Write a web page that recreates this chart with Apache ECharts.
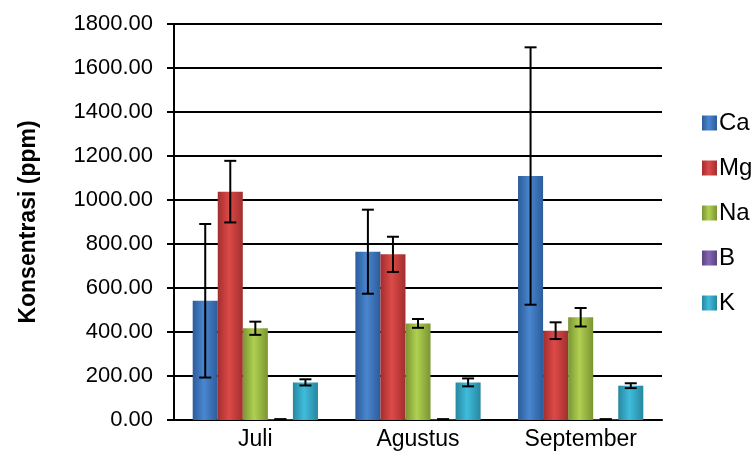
<!DOCTYPE html>
<html><head><meta charset="utf-8">
<script src="https://cdn.jsdelivr.net/npm/echarts@6/dist/echarts.min.js"></script>
<style>html,body{margin:0;padding:0;background:#fff}#c{width:755px;height:461px}</style>
</head><body><div id="c"></div>
<script>
const categories = ['Juli', 'Agustus', 'September'];
const seriesNames = ['Ca', 'Mg', 'Na', 'B', 'K'];
const Ca = [542, 765, 1109];
const Mg = [1038, 753, 406];
const Na = [417, 439, 467];
const B = [3, 3, 3];
const K = [171, 171, 156];
const CaErr = [349, 191, 585];
const MgErr = [140, 80, 38];
const NaErr = [30, 20, 42];
const BErr = [0, 0, 0];
const KErr = [14, 18, 11];
const yTicks = [0, 200, 400, 600, 800, 1000, 1200, 1400, 1600, 1800];

const values = [Ca, Mg, Na, B, K];
const errs = [CaErr, MgErr, NaErr, BErr, KErr];
const colorSets = [
  ['#2b5c9a', '#4a86d0', '#2b5c9a'],
  ['#a22e2e', '#dc4a48', '#a22e2e'],
  ['#7a9531', '#b0d052', '#7a9531'],
  ['#5a4282', '#8466b4', '#5a4282'],
  ['#27879f', '#3fbcdc', '#27879f']
];
const catGap = 0.23;
function grad(c) {
  return new echarts.graphic.LinearGradient(0, 0, 1, 0, [
    {offset: 0, color: c[0]}, {offset: 0.45, color: c[1]}, {offset: 1, color: c[2]}
  ]);
}
const series = [];
values.forEach((vals, i) => {
  series.push({
    name: seriesNames[i], type: 'bar', data: vals,
    barGap: '0%', barCategoryGap: (catGap * 100) + '%',
    itemStyle: {color: grad(colorSets[i])},
    z: 2
  });
});
values.forEach((vals, i) => {
  series.push({
    name: seriesNames[i] + '_err', type: 'custom', z: 5,
    data: vals.map((v, j) => [j, v - errs[i][j], v + errs[i][j]]),
    renderItem: function (params, api) {
      const c = api.value(0);
      const x0 = api.coord([c, 0])[0];
      const band = api.size([1, 0])[0];
      const bw = band * (1 - catGap) / 5;
      const cx = x0 + (i - 2) * bw;
      const yl = api.coord([c, api.value(1)])[1];
      const yh = api.coord([c, api.value(2)])[1];
      const hw = 6;
      const st = {stroke: '#000', lineWidth: 2};
      return {type: 'group', children: [
        {type: 'line', shape: {x1: cx, y1: yl, x2: cx, y2: yh}, style: st},
        {type: 'line', shape: {x1: cx - hw, y1: yl, x2: cx + hw, y2: yl}, style: st},
        {type: 'line', shape: {x1: cx - hw, y1: yh, x2: cx + hw, y2: yh}, style: st}
      ]};
    }
  });
});
const chart = echarts.init(document.getElementById('c'));
chart.setOption({
  animation: false,
  textStyle: {fontFamily: 'Liberation Sans, Arial, sans-serif'},
  grid: {left: 174, right: 93, top: 24, bottom: 41},
  legend: {
    data: seriesNames.map((n, i) => ({name: n, itemStyle: {color: grad(colorSets[i])}})),
    orient: 'vertical', left: 697, top: 106,
    itemWidth: 15, itemHeight: 15, itemGap: 21,
    textStyle: {fontSize: 24, color: '#000', padding: [0, 0, 0, -3]},
    icon: 'rect'
  },
  xAxis: {
    type: 'category', data: categories,
    axisLine: {lineStyle: {color: '#000', width: 2}},
    axisTick: {show: false},
    axisLabel: {fontSize: 23, color: '#000', margin: 8}
  },
  yAxis: {
    type: 'value', min: 0, max: 1800, interval: 200,
    name: 'Konsentrasi (ppm)', nameLocation: 'middle', nameGap: 134,
    nameTextStyle: {fontSize: 23, fontWeight: 'bold', color: '#000'},
    axisLine: {show: true, lineStyle: {color: '#000', width: 2}},
    axisTick: {show: true, length: 7, lineStyle: {color: '#000', width: 2}},
    splitLine: {lineStyle: {color: '#000', width: 2}},
    axisLabel: {fontSize: 22, color: '#000', margin: 21,
      formatter: v => yTicks.includes(v) ? v.toFixed(2) : ''}
  },
  series: series
});
</script></body></html>
